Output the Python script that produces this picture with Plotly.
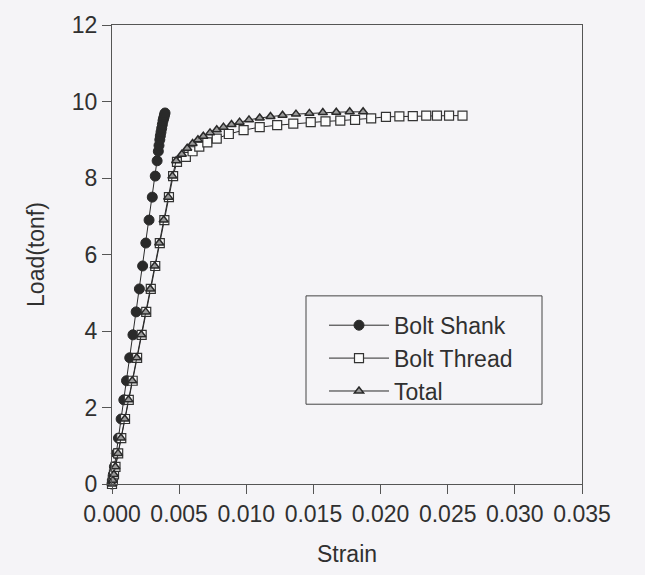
import plotly.graph_objects as go

# ---- data ----
shank_strain = [0.0, 0.00004, 0.0001, 0.00018, 0.00032, 0.00048, 0.00068, 0.00088, 0.00108,
                0.00132, 0.00156, 0.0018, 0.00204, 0.00228, 0.00252, 0.00276, 0.003, 0.00322,
                0.00336, 0.00345, 0.0035, 0.00356, 0.0036, 0.00365, 0.0037, 0.00375, 0.0038,
                0.00384, 0.00388, 0.00391, 0.00395]
shank_load = [0.0, 0.1, 0.25, 0.45, 0.8, 1.2, 1.7, 2.2, 2.7, 3.3, 3.9, 4.5, 5.1, 5.7, 6.3, 6.9,
              7.5, 8.05, 8.45, 8.7, 8.85, 9.0, 9.1, 9.2, 9.3, 9.4, 9.5, 9.55, 9.6, 9.65, 9.7]

thread_strain = [0.0, 0.00006, 0.00015, 0.00026, 0.00046, 0.00069, 0.00097, 0.00125, 0.00154,
                 0.00187, 0.00221, 0.00255, 0.00289, 0.00322, 0.00356, 0.0039, 0.00424, 0.00455,
                 0.00484, 0.0055, 0.006, 0.0065, 0.0071, 0.0078, 0.0087, 0.0098, 0.011, 0.0123,
                 0.0135, 0.0148, 0.0159, 0.017, 0.0181, 0.0193, 0.0204, 0.0214, 0.0224, 0.0234,
                 0.0242, 0.0251, 0.0261]
thread_load = [0.0, 0.1, 0.25, 0.45, 0.8, 1.2, 1.7, 2.2, 2.7, 3.3, 3.9, 4.5, 5.1, 5.7, 6.3, 6.9,
               7.5, 8.05, 8.42, 8.55, 8.7, 8.82, 8.93, 9.03, 9.15, 9.25, 9.33, 9.38, 9.42, 9.46,
               9.48, 9.5, 9.52, 9.56, 9.6, 9.61, 9.62, 9.63, 9.63, 9.63, 9.63]

total_strain = [0.0, 0.00006, 0.00014, 0.00025, 0.00045, 0.00067, 0.00095, 0.00123, 0.00151,
                0.00184, 0.00218, 0.00251, 0.00285, 0.00318, 0.00352, 0.00385, 0.00419, 0.0045,
                0.00478, 0.0052, 0.0056, 0.006, 0.0064, 0.0068, 0.0073, 0.0078, 0.0083, 0.0089,
                0.0095, 0.0102, 0.011, 0.0118, 0.0127, 0.0137, 0.0147, 0.0157, 0.0167, 0.0177,
                0.0187]
total_load = [0.0, 0.1, 0.25, 0.45, 0.8, 1.2, 1.7, 2.2, 2.7, 3.3, 3.9, 4.5, 5.1, 5.7, 6.3, 6.9,
              7.5, 8.05, 8.45, 8.62, 8.78, 8.9, 9.0, 9.09, 9.18, 9.26, 9.33, 9.4, 9.46, 9.52,
              9.57, 9.61, 9.64, 9.67, 9.69, 9.71, 9.72, 9.73, 9.73]

x_ticks = [0.0, 0.005, 0.010, 0.015, 0.020, 0.025, 0.030, 0.035]
y_ticks = [0, 2, 4, 6, 8, 10, 12]

INK = "#2a2a2a"
BG = "#f5f4f7"
TXT = "#303030"
FONT = "Liberation Sans, Arial, sans-serif"

fig = go.Figure()
fig.add_trace(go.Scatter(
    x=shank_strain, y=shank_load, name="Bolt Shank", mode="lines+markers",
    line=dict(color=INK, width=1),
    marker=dict(symbol="circle", size=10, color=INK, line=dict(color=INK, width=1)),
    cliponaxis=False))
fig.add_trace(go.Scatter(
    x=thread_strain, y=thread_load, name="Bolt Thread", mode="lines+markers",
    line=dict(color=INK, width=1),
    marker=dict(symbol="square", size=9, color="#fbfbfb", line=dict(color="#333333", width=1.2)),
    cliponaxis=False))
fig.add_trace(go.Scatter(
    x=total_strain, y=total_load, name="Total", mode="lines+markers",
    line=dict(color=INK, width=1),
    marker=dict(symbol="triangle-up", size=8, color="#9a9a9a", line=dict(color=INK, width=1.5)),
    cliponaxis=False))

axis_common = dict(
    showline=True, linecolor="#555555", linewidth=1, mirror=True,
    ticks="outside", ticklen=9, tickcolor="#555555", tickwidth=1,
    showgrid=False, zeroline=False,
    tickfont=dict(family=FONT, size=23, color=TXT),
)

fig.update_xaxes(range=[0, 0.035], tickvals=x_ticks, tickformat=".3f",
                 title=dict(text="Strain", font=dict(family=FONT, size=23, color=TXT),
                            standoff=20),
                 **axis_common)
fig.update_yaxes(range=[0, 12], tickvals=y_ticks,
                 title=dict(text="Load(tonf)", font=dict(family=FONT, size=23, color=TXT),
                            standoff=20),
                 **axis_common)

fig.add_shape(type="rect", xref="paper", yref="paper",
              x0=(306 - 112) / 470, x1=(542 - 112) / 470,
              y0=(486 - 405) / 466, y1=(486 - 295) / 466,
              line=dict(color="#444444", width=1), fillcolor="rgba(0,0,0,0)")

fig.update_layout(
    width=645, height=575,
    margin=dict(l=112, r=63, t=20, b=89),
    paper_bgcolor=BG, plot_bgcolor=BG,
    showlegend=True,
    legend=dict(x=(324 - 112) / 470, y=(486 - 303) / 466, xanchor="left", yanchor="top",
                bgcolor="rgba(0,0,0,0)", borderwidth=0,
                font=dict(family=FONT, size=23, color=TXT),
                itemwidth=60),
    font=dict(family=FONT, color=TXT),
)

fig.write_html("out.html")
